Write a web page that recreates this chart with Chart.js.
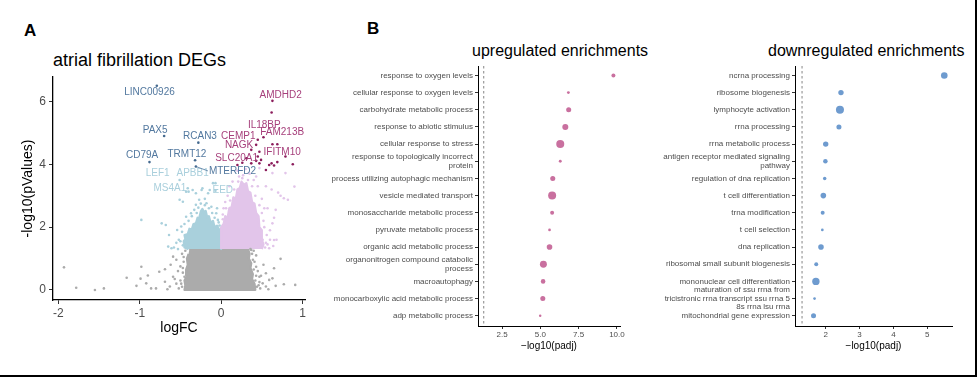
<!DOCTYPE html>
<html lang="en">
<head>
<meta charset="UTF-8">
<title>Atrial fibrillation DEGs and enrichments</title>
<script src="https://cdn.jsdelivr.net/npm/chart.js"></script>
<style>
    body { margin: 0; background: #fff; }
    #fig { position: relative; width: 977px; height: 377px; background: #fff; overflow: hidden;
           font-family: "Liberation Sans", Arial, Helvetica, sans-serif; }
    #fig canvas { position: absolute; }
    .tag { position: absolute; font-size: 17px; line-height: 17px; font-weight: bold; color: #000; }
    .ptitle { position: absolute; font-size: 16px; line-height: 16px; color: #000; white-space: nowrap; }
    .frame { position: absolute; left: 0; top: 0; width: 975px; height: 375px;
             border-right: 2px solid #000; border-bottom: 2px solid #000; pointer-events: none; }
</style>
</head>
<body>
<div id="fig">
    <div class="tag" style="left:24px;top:22px">A</div>
    <div class="tag" style="left:367px;top:20px">B</div>
    <div class="ptitle" style="left:53px;top:51px;font-size:18px;line-height:18px">atrial fibrillation DEGs</div>
    <div class="ptitle" style="left:472px;top:43px">upregulated enrichments</div>
    <div class="ptitle" style="left:768px;top:43px">downregulated enrichments</div>

    <canvas id="volcano" width="317" height="337" style="left:0;top:0"></canvas>
    <canvas id="upChart" width="310" height="352" style="left:320px;top:0"></canvas>
    <canvas id="downChart" width="322" height="352" style="left:640px;top:0"></canvas>
    <div class="frame"></div>
</div>

<script>
// ---------------- panel A : volcano (logFC, -log10 p) ----------------
const fcTicks = [-2, -1, 0, 1];
const pTicks = [0, 2, 4, 6];

// dense cores of each cloud (outline)
const grayCore = [[-0.39,1.3],[0.33,1.3],[0.35,1.15],[0.34,1.0],[0.37,0.85],[0.36,0.7],[0.39,0.5],[0.38,0.35],[0.41,0.2],[0.42,0.0],[-0.45,0.0],[-0.44,0.15],[-0.45,0.3],[-0.42,0.45],[-0.43,0.65],[-0.41,0.8],[-0.42,1.0],[-0.40,1.15]];
const blueCore = [[-0.40,1.3],[-0.45,1.35],[-0.46,1.55],[-0.44,1.62],[-0.45,1.75],[-0.41,1.78],[-0.39,1.95],[-0.36,1.93],[-0.34,2.1],[-0.31,2.12],[-0.29,2.3],[-0.27,2.28],[-0.25,2.5],[-0.23,2.58],[-0.21,2.48],[-0.19,2.52],[-0.17,2.3],[-0.15,2.35],[-0.13,2.15],[-0.10,2.2],[-0.08,2.0],[-0.05,2.05],[-0.02,1.9],[0,1.95],[0,1.3]];
const pinkCore = [[0,1.3],[0,2.0],[0.03,2.1],[0.05,2.35],[0.08,2.3],[0.10,2.6],[0.13,2.65],[0.15,2.95],[0.18,2.9],[0.20,3.2],[0.23,3.25],[0.25,3.45],[0.28,3.35],[0.31,3.4],[0.33,3.15],[0.36,3.1],[0.38,2.8],[0.41,2.75],[0.43,2.45],[0.46,2.35],[0.47,2.0],[0.50,1.9],[0.50,1.6],[0.52,1.45],[0.50,1.3]];

// loose points round the cores
const grayPts = [[-1.93,0.72],[-1.78,0.07],[-1.55,0.0],[-1.44,0.05],[-1.16,0.39],[-0.98,0.74],[-1.04,0.13],[-0.99,0.36],[-0.90,0.46],[-0.92,0.21],[-0.76,0.58],[-0.69,0.66],[-0.59,0.42],[-0.69,0.26],[-0.80,0.05],[-0.63,0.11],[-0.55,0.96],[-0.59,1.06],[-0.86,0.05],[0.73,0.99],[0.77,0.18],[0.91,0.16],[0.63,0.37],[0.55,0.53],[0.59,0.32],[0.51,0.21],[0.47,0.42],[0.43,0.74],[0.39,0.96],[0.55,0.11],[0.67,0.13],[0.37,1.27],[0.65,0.69],[-0.48,0.10],[-0.50,0.30],[-0.47,0.55],[-0.52,0.05],[-0.55,0.20],[-0.46,0.90],[-0.48,1.15],[-0.50,0.75],[0.42,0.30],[0.44,0.10],[0.45,0.60],[0.41,0.90],[0.43,1.10],[0.47,0.25],[0.49,0.45],[0.40,1.25],[-0.53,0.60],[-0.57,0.35],[-0.62,0.80],[0.52,0.80],[0.48,0.05],[-0.44,1.25],[-0.66,0.02],[0.58,0.02],[-0.47,0.70],[-0.46,1.05],[-0.45,0.42],[0.38,1.15],[0.40,0.65],[0.43,0.45],[0.46,0.15],[-0.49,0.20],[0.36,1.30]];
const bluePts = [[-0.98,2.23],[-0.73,2.12],[-0.68,2.07],[-0.64,1.75],[-0.65,1.38],[-0.61,1.33],[-0.51,2.87],[-0.47,2.81],[-0.41,3.24],[-0.43,3.13],[-0.35,3.18],[-0.23,3.24],[-0.10,3.40],[-0.07,3.16],[-0.16,3.08],[-0.31,2.71],[-0.27,2.87],[-0.18,2.76],[-0.12,2.65],[-0.37,2.44],[-0.43,2.33],[-0.49,2.02],[-0.54,1.91],[-0.06,2.44],[-0.04,2.23],[-0.51,3.50],[-0.40,3.13],[-0.31,3.08],[-0.24,3.18],[-0.07,3.40],[-0.14,3.18],[-0.50,1.55],[-0.47,1.42],[-0.55,1.50],[-0.28,2.62],[-0.20,2.70],[-0.33,2.55],[-0.08,2.30],[-0.02,2.05],[-0.52,1.60],[-0.48,1.85],[-0.45,2.10],[-0.40,2.20],[-0.36,2.35],[-0.30,2.45],[-0.25,2.75],[-0.20,2.90],[-0.15,2.60],[-0.11,2.45],[-0.05,2.60],[-0.03,2.15],[-0.58,1.35],[-0.53,1.30]];
const pinkPts = [[0.26,3.56],[0.43,3.61],[0.55,3.30],[0.62,3.20],[0.70,3.10],[0.73,3.00],[0.50,2.90],[0.57,2.60],[0.65,2.30],[0.60,1.90],[0.68,1.60],[0.55,1.50],[0.52,2.20],[0.20,3.80],[0.30,3.85],[0.35,3.70],[0.10,3.30],[0.05,2.80],[0.02,2.40],[0.45,3.30],[0.40,3.50],[0.64,1.40],[0.50,1.45],[0.77,2.92],[0.82,2.87],[0.67,2.55],[0.63,2.12],[0.65,1.59],[0.59,1.33],[0.63,3.72],[0.79,3.72],[0.47,3.88],[0.14,3.45],[0.22,3.61],[0.90,3.29],[0.08,3.00],[0.03,2.60],[0.53,2.60],[0.56,1.75],[0.51,1.60],[0.02,2.25],[0.06,2.60],[0.11,2.85],[0.16,3.20],[0.21,3.45],[0.27,3.65],[0.33,3.50],[0.38,3.30],[0.42,3.00],[0.47,2.70],[0.50,2.45],[0.53,2.00],[0.57,1.45],[0.60,1.60],[0.54,1.35]];

// significant genes
const downSig = [[-0.79,6.50],[-0.70,4.90],[-0.28,4.69],[-0.88,4.07],[-0.32,4.13],[-0.31,3.93]];
const upSig = [[0.63,6.02],[0.62,5.65],[0.52,4.86],[0.45,4.78],[0.43,4.62],[0.37,4.46],[0.47,4.40],[0.63,4.64],[0.69,4.64],[0.79,4.25],[0.88,4.00],[0.45,4.25],[0.43,4.11],[0.47,4.03],[0.49,4.14],[0.37,4.03],[0.31,4.19],[0.26,4.05],[0.20,3.98],[0.59,3.98],[0.65,3.96],[0.62,4.03],[0.69,4.07],[0.55,3.82]];

// gene labels (label centre in data units)
const labelGenes = ['LINC00926','PAX5','RCAN3','CD79A','TRMT12','MTERFD2','LEF1','APBB1','MS4A1','EED','AMDHD2','IL18BP','CEMP1','FAM213B','NAGK','IFITM10','SLC20A1'];
const labelFC    = [-0.88,-0.81,-0.26,-0.97,-0.42,0.14,-0.78,-0.35,-0.63,0.02,0.73,0.53,0.21,0.75,0.22,0.75,0.19];
const labelP     = [6.28,5.10,4.90,4.28,4.32,3.79,3.73,3.73,3.25,3.18,6.19,5.25,4.88,5.02,4.62,4.40,4.19];
const labelGroup = ['down','down','down','down','down','down','light','light','light','light','up','up','up','up','up','up','up'];
const labelColors = { down: '#52789f', light: '#a9cfdc', up: '#a63f7b' };
const connectors = [['MTERFD2', -0.31, 3.93]];

// ---------------- panel B : enrichments ----------------
const upTerms = [
    'response to oxygen levels',
    'cellular response to oxygen levels',
    'carbohydrate metabolic process',
    'response to abiotic stimulus',
    'cellular response to stress',
    ['response to topologically incorrect', 'protein'],
    'process utilizing autophagic mechanism',
    'vesicle mediated transport',
    'monosaccharide metabolic process',
    'pyruvate metabolic process',
    'organic acid metabolic process',
    ['organonitrogen compound catabolic', 'process'],
    'macroautophagy',
    'monocarboxylic acid metabolic process',
    'adp metabolic process'
];
const upPadj  = [9.77, 6.83, 6.85, 6.63, 6.30, 6.30, 5.81, 5.77, 5.77, 5.60, 5.60, 5.20, 5.18, 5.16, 4.99];
const upCount = [13, 7, 21, 30, 53, 7, 21, 53, 13, 6, 26, 40, 17, 21, 5];

const downTerms = [
    'ncrna processing',
    'ribosome biogenesis',
    'lymphocyte activation',
    'rrna processing',
    'rrna metabolic process',
    ['antigen receptor mediated signaling', 'pathway'],
    'regulation of dna replication',
    't cell differentiation',
    'trna modification',
    't cell selection',
    'dna replication',
    'ribosomal small subunit biogenesis',
    'mononuclear cell differentiation',
    ['maturation of ssu rrna from', 'tricistronic rrna transcript ssu rrna 5', '8s rrna lsu rrna'],
    'mitochondrial gene expression'
];
const downPadj  = [5.50, 2.45, 2.42, 2.39, 2.00, 1.99, 1.97, 1.93, 1.91, 1.90, 1.86, 1.72, 1.71, 1.67, 1.64];
const downCount = [36, 24, 53, 21, 24, 17, 10, 26, 13, 6, 26, 13, 45, 6, 21];

const upTicks = [2.5, 5.0, 7.5, 10.0];
const downTicks = [2, 3, 4, 5];
const padjCut = -Math.log10(0.05);

Chart.defaults.font.family = '"Liberation Sans", Arial, Helvetica, sans-serif';

const toXY = arr => arr.map(d => ({ x: d[0], y: d[1] }));
const radiusFor = n => Math.sqrt(n) * 0.55;

// axis style shared by all three plots
function axisStyle(extra) {
    return Object.assign({
        type: 'linear',
        grid: { display: true, drawOnChartArea: false, drawTicks: true, tickLength: 3, color: '#333' },
        border: { display: true, color: '#000', width: 1 }
    }, extra);
}

const geneLabelPlugin = {
    id: 'geneLabels',
    afterDatasetsDraw(chart) {
        const { ctx, scales: { x, y } } = chart;
        ctx.save();
        ctx.font = '10px "Liberation Sans", Arial, sans-serif';
        ctx.textAlign = 'center';
        ctx.textBaseline = 'middle';
        labelGenes.forEach((g, i) => {
            ctx.fillStyle = labelColors[labelGroup[i]];
            ctx.fillText(g, x.getPixelForValue(labelFC[i]), y.getPixelForValue(labelP[i]));
        });
        connectors.forEach(([gene, fc, p]) => {
            const i = labelGenes.indexOf(gene);
            const w = ctx.measureText(gene).width;
            ctx.strokeStyle = labelColors[labelGroup[i]];
            ctx.lineWidth = 0.8;
            ctx.beginPath();
            ctx.moveTo(x.getPixelForValue(fc), y.getPixelForValue(p));
            ctx.lineTo(x.getPixelForValue(labelFC[i]) - w / 2 - 1, y.getPixelForValue(labelP[i]));
            ctx.stroke();
        });
        ctx.restore();
    }
};

const cutLinePlugin = {
    id: 'cutLine',
    beforeDatasetsDraw(chart) {
        const { ctx, chartArea, scales: { x } } = chart;
        const px = x.getPixelForValue(padjCut);
        ctx.save();
        ctx.strokeStyle = '#9a9a9a';
        ctx.lineWidth = 1.2;
        ctx.setLineDash([2.5, 2.5]);
        ctx.beginPath();
        ctx.moveTo(px, chartArea.top);
        ctx.lineTo(px, chartArea.bottom);
        ctx.stroke();
        ctx.restore();
    }
};

function core(arr, color) {
    return { type: 'line', data: toXY(arr), showLine: true, fill: 'shape', backgroundColor: color,
             borderColor: color, borderWidth: 2.2, borderJoinStyle: 'round', pointRadius: 0, tension: 0 };
}
function dots(arr, color, r) {
    return { type: 'scatter', data: toXY(arr), backgroundColor: color, borderWidth: 0, pointRadius: r };
}

new Chart(document.getElementById('volcano'), {
    type: 'scatter',
    data: {
        // first dataset is painted last (on top)
        datasets: [
            dots(upSig, '#8b1d5c', 1.3),
            dots(downSig, '#44698f', 1.3),
            dots(pinkPts, '#e2c5ea', 1.3),
            dots(bluePts, '#a9d0dc', 1.3),
            dots(grayPts, '#ababab', 1.3),
            core(pinkCore, '#e2c5ea'),
            core(blueCore, '#a9d0dc'),
            core(grayCore, '#ababab')
        ]
    },
    options: {
        responsive: false,
        animation: false,
        layout: { padding: { top: 77, right: 12, left: 0, bottom: 0 } },
        plugins: { legend: { display: false }, tooltip: { enabled: false } },
        scales: {
            x: axisStyle({
                min: -2.065, max: 1.03,
                afterBuildTicks: s => { s.ticks = fcTicks.map(v => ({ value: v })); },
                afterFit: s => { s.height = 37; },
                grid: { display: true, drawOnChartArea: false, tickLength: 4, color: '#333' },
                border: { display: true, color: '#000', width: 1.3 },
                ticks: { font: { size: 12 }, color: '#4d4d4d', padding: 2, callback: v => String(v) },
                title: { display: true, text: 'logFC', font: { size: 14 }, color: '#000', padding: 0 }
            }),
            y: axisStyle({
                min: -0.32, max: 6.78,
                afterBuildTicks: s => { s.ticks = pTicks.map(v => ({ value: v })); },
                afterFit: s => { s.width = 53; },
                grid: { display: true, drawOnChartArea: false, tickLength: 4, color: '#333' },
                border: { display: true, color: '#000', width: 1.3 },
                ticks: { font: { size: 12 }, color: '#4d4d4d', padding: 3, callback: v => String(v) },
                title: { display: true, text: '-log10(pValues)', font: { size: 14 }, color: '#000', padding: { top: 20, bottom: 0 } }
            })
        }
    },
    plugins: [geneLabelPlugin]
});

function enrichChart(id, terms, padj, counts, color, xMin, xMax, ticks, fmt, yWidth) {
    return new Chart(document.getElementById(id), {
        type: 'scatter',
        data: {
            datasets: [{
                data: terms.map((t, i) => ({ x: padj[i], y: i })),
                backgroundColor: color,
                borderWidth: 0,
                pointRadius: counts.map(radiusFor)
            }]
        },
        options: {
            responsive: false,
            animation: false,
            layout: { padding: { top: 66, right: 10, left: 0, bottom: 0 } },
            plugins: { legend: { display: false }, tooltip: { enabled: false } },
            scales: {
                x: axisStyle({
                    min: xMin, max: xMax,
                    afterBuildTicks: s => { s.ticks = ticks.map(v => ({ value: v })); },
                    afterFit: s => { s.height = 26; },
                    ticks: { font: { size: 8 }, color: '#4d4d4d', padding: 1, callback: fmt },
                    title: { display: true, text: '\u2212log10(padj)', font: { size: 10 }, color: '#000', padding: 0 }
                }),
                y: axisStyle({
                    reverse: true,
                    min: -0.55, max: 14.6,
                    afterBuildTicks: s => { s.ticks = terms.map((t, i) => ({ value: i })); },
                    afterFit: s => { s.width = yWidth; },
                    ticks: { font: { size: 8, lineHeight: 1.05 }, color: '#4d4d4d', padding: 2, autoSkip: false,
                             callback: v => terms[v] }
                })
            }
        },
        plugins: [cutLinePlugin]
    });
}

enrichChart('upChart', upTerms, upPadj, upCount, '#c9709f', 0.93, 10.2, upTicks, v => v.toFixed(1), 158);
enrichChart('downChart', downTerms, downPadj, downCount, '#6e9bcf', 1.093, 5.728, downTicks, v => String(v), 155);
</script>
</body>
</html>
